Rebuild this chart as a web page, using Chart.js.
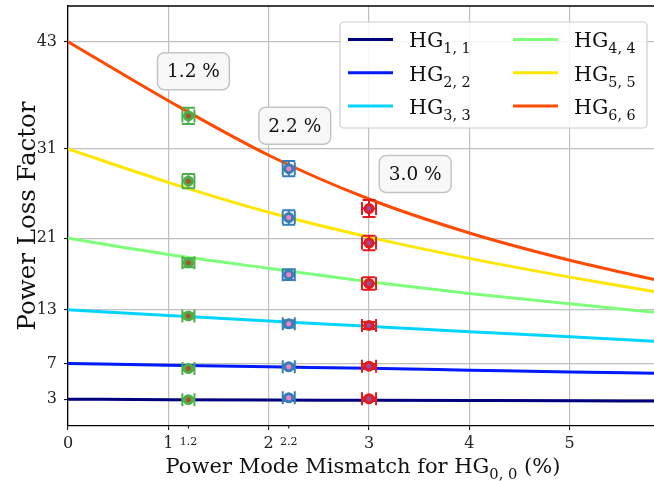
<!DOCTYPE html>
<html>
<head>
<meta charset="utf-8">
<script src="https://cdn.jsdelivr.net/npm/chart.js@4.4.1/dist/chart.umd.min.js"></script>
<style>
  html, body { margin: 0; padding: 0; background: #fff; }
  canvas { display: block; }
</style>
</head>
<body>
<canvas id="lossChart" width="654" height="481"></canvas>
<script>
// curve samples (mismatch %, power loss factor)
const mismatchX = [0, 1, 2, 3, 4, 5, 5.84];
const hg11 = [3.0, 2.95, 2.91, 2.88, 2.85, 2.82, 2.79];
const hg22 = [7.0, 6.8, 6.62, 6.45, 6.25, 6.05, 5.91];
const hg33 = [13.0, 12.36, 11.76, 11.15, 10.55, 9.98, 9.48];
const hg44 = [21.0, 19.2, 17.65, 16.14, 14.83, 13.67, 12.74];
const hg55 = [31.0, 27.27, 23.92, 21.14, 18.76, 16.66, 15.04];
const hg66 = [43.0, 36.4, 30.3, 25.4, 21.6, 18.55, 16.4];

const modeSubs = ["1, 1", "2, 2", "3, 3", "4, 4", "5, 5", "6, 6"];
const modeColors = ["#00007f", "#0019ff", "#00d4ff", "#7dff7a", "#ffe600", "#ff4a00"];

// measured points with error bars, one group per mismatch
const groupX = [1.2, 2.2, 3.0];
const group12 = [2.95, 6.43, 12.32, 18.27, 27.4, 34.7];
const group22 = [3.16, 6.62, 11.43, 16.93, 23.33, 28.8];
const group30 = [3.05, 6.7, 11.25, 15.94, 20.48, 24.33];
const group12Err = [0.15, 0.2, 0.3, 0.5, 0.8, 0.9];
const group22Err = [0.15, 0.2, 0.4, 0.6, 0.8, 0.85];
const group30Err = [0.15, 0.25, 0.4, 0.7, 0.8, 0.95];
const groupXErr = [0.06, 0.06, 0.07];
const groupEdge = ["#4daf4a", "#377eb8", "#e41a1c"];
const groupFace = ["#a65628", "#f781bf", "#984ea3"];

// annotation boxes
const noteText = ["1.2 %", "2.2 %", "3.0 %"];
const noteX = [1.25, 2.26, 3.46];
const noteY = [39.7, 33.6, 28.2];

const xTicks = [0, 1, 2, 3, 4, 5];
const xMinorTicks = [1.2, 2.2];
const yTicks = [3, 7, 13, 21, 31, 43];

const SERIF = '"DejaVu Serif", "Liberation Serif", serif';
const curves = [hg11, hg22, hg33, hg44, hg55, hg66];
const groups = [group12, group22, group30];
const groupErr = [group12Err, group22Err, group30Err];

const datasets = [];
groups.forEach((g, i) => {
    datasets.push({
        type: "scatter",
        data: g.map(v => ({ x: groupX[i], y: v })),
        errY: groupErr[i],
        errX: groupXErr[i],
        edge: groupEdge[i],
        pointRadius: 4,
        pointBorderWidth: 3,
        pointBackgroundColor: groupFace[i],
        pointBorderColor: groupEdge[i],
        order: 0
    });
});
curves.forEach((c, i) => {
    datasets.push({
        type: "line",
        data: c.map((v, j) => ({ x: mismatchX[j], y: v })),
        borderColor: modeColors[i],
        borderWidth: 3,
        pointRadius: 0,
        cubicInterpolationMode: "monotone",
        fill: false,
        order: 1
    });
});

function subText(ctx, parts, x, y, size, align) {
    // parts: [text, isSub]
    const widths = parts.map(p => {
        ctx.font = (p[1] ? size * 0.7 : size) + "px " + SERIF;
        return ctx.measureText(p[0]).width;
    });
    const total = widths.reduce((a, b) => a + b, 0);
    let cx = align === "center" ? x - total / 2 : x;
    parts.forEach((p, i) => {
        ctx.font = (p[1] ? size * 0.7 : size) + "px " + SERIF;
        ctx.fillText(p[0], cx, p[1] ? y + size * 0.3 : y);
        cx += widths[i];
    });
}

const errorBars = {
    id: "errorBars",
    beforeDatasetDraw(chart, args) {
        const ds = chart.data.datasets[args.index];
        if (!ds.errY) return;
        const ctx = chart.ctx, xs = chart.scales.x, ys = chart.scales.y;
        const cap = 6.5;
        ctx.save();
        ctx.strokeStyle = ds.edge;
        ctx.lineWidth = 2;
        ds.data.forEach((p, i) => {
            const px = xs.getPixelForValue(p.x), py = ys.getPixelForValue(p.y);
            const x0 = xs.getPixelForValue(p.x - ds.errX), x1 = xs.getPixelForValue(p.x + ds.errX);
            const y0 = ys.getPixelForValue(p.y - ds.errY[i]), y1 = ys.getPixelForValue(p.y + ds.errY[i]);
            ctx.beginPath();
            ctx.moveTo(x0, py); ctx.lineTo(x1, py);
            ctx.moveTo(x0, py - cap); ctx.lineTo(x0, py + cap);
            ctx.moveTo(x1, py - cap); ctx.lineTo(x1, py + cap);
            ctx.moveTo(px, y0); ctx.lineTo(px, y1);
            ctx.moveTo(px - cap, y0); ctx.lineTo(px + cap, y0);
            ctx.moveTo(px - cap, y1); ctx.lineTo(px + cap, y1);
            ctx.stroke();
        });
        ctx.restore();
    }
};

function roundBox(ctx, x, y, w, h, r) {
    ctx.beginPath();
    ctx.moveTo(x + r, y);
    ctx.arcTo(x + w, y, x + w, y + h, r);
    ctx.arcTo(x + w, y + h, x, y + h, r);
    ctx.arcTo(x, y + h, x, y, r);
    ctx.arcTo(x, y, x + w, y, r);
    ctx.closePath();
}

const overlay = {
    id: "overlay",
    afterDraw(chart) {
        const ctx = chart.ctx, area = chart.chartArea;
        const xs = chart.scales.x, ys = chart.scales.y;
        ctx.save();
        // top spine
        ctx.strokeStyle = "#000";
        ctx.lineWidth = 1.3;
        ctx.beginPath();
        ctx.moveTo(area.left, area.top);
        ctx.lineTo(area.right, area.top);
        ctx.stroke();

        // minor ticks at measured mismatches
        ctx.fillStyle = "#222";
        ctx.lineWidth = 1;
        xMinorTicks.forEach(v => {
            const px = xs.getPixelForValue(v);
            ctx.beginPath();
            ctx.moveTo(px, area.bottom);
            ctx.lineTo(px, area.bottom + 2.5);
            ctx.stroke();
            ctx.font = "11px " + SERIF;
            ctx.textAlign = "center";
            ctx.textBaseline = "alphabetic";
            ctx.fillText(String(v), px, area.bottom + 18.5);
        });

        // axis titles
        ctx.fillStyle = "#111";
        ctx.textAlign = "left";
        subText(ctx, [["Power Mode Mismatch for HG", false], ["0, 0", true], [" (%)", false]],
            (area.left + area.right) / 2 + 2, 473, 21, "center");
        ctx.save();
        ctx.translate(35, (area.top + area.bottom) / 2);
        ctx.rotate(-Math.PI / 2);
        ctx.font = "24.5px " + SERIF;
        ctx.textAlign = "center";
        ctx.fillText("Power Loss Factor", 0, 0);
        ctx.restore();

        // annotation boxes
        noteText.forEach((t, i) => {
            const cx = xs.getPixelForValue(noteX[i]), cy = ys.getPixelForValue(noteY[i]);
            ctx.font = "18.5px " + SERIF;
            const w = ctx.measureText(t).width + 19, h = 37;
            roundBox(ctx, cx - w / 2, cy - h / 2, w, h, 7);
            ctx.fillStyle = "#f8f8f8";
            ctx.fill();
            ctx.strokeStyle = "#c4c4c4";
            ctx.lineWidth = 1.5;
            ctx.stroke();
            ctx.fillStyle = "#111";
            ctx.textAlign = "center";
            ctx.textBaseline = "middle";
            ctx.fillText(t, cx, cy + 1);
        });

        // legend
        const lx = area.right - 314, ly = area.top + 16;
        roundBox(ctx, lx, ly, 307, 106, 4);
        ctx.fillStyle = "rgba(255,255,255,0.85)";
        ctx.fill();
        ctx.strokeStyle = "#cccccc";
        ctx.lineWidth = 1.2;
        ctx.stroke();
        ctx.textAlign = "left";
        ctx.textBaseline = "alphabetic";
        modeSubs.forEach((s, i) => {
            const col = Math.floor(i / 3), row = i % 3;
            const x = lx + 8 + col * 165, y = ly + 17.5 + row * 33.3;
            ctx.strokeStyle = modeColors[i];
            ctx.lineWidth = 3;
            ctx.beginPath();
            ctx.moveTo(x, y);
            ctx.lineTo(x + 45, y);
            ctx.stroke();
            ctx.fillStyle = "#111";
            subText(ctx, [["HG", false], [s, true]], x + 61, y + 7.7, 20.5, "left");
        });
        ctx.restore();
    }
};

function noPad(s) {
    s.paddingTop = 0; s.paddingBottom = 0; s.paddingLeft = 0; s.paddingRight = 0;
}

new Chart(document.getElementById("lossChart"), {
    data: { datasets: datasets },
    options: {
        responsive: false,
        animation: false,
        layout: { autoPadding: false, padding: { top: 6, right: 0, left: 0, bottom: 0 } },
        plugins: { legend: { display: false }, tooltip: { enabled: false } },
        scales: {
            x: {
                type: "linear",
                min: 0,
                max: 5.84,
                afterFit: s => { s.height = 55; noPad(s); },
                afterBuildTicks: s => { s.ticks = xTicks.map(v => ({ value: v })); },
                grid: { color: "#c0c0c0", lineWidth: 1.2, tickColor: "#000", tickLength: 4, tickWidth: 1 },
                border: { color: "#000", width: 1.3 },
                ticks: { color: "#222", padding: 4, maxRotation: 0, font: { family: SERIF, size: 16 } }
            },
            y: {
                type: "linear",
                min: 0,
                max: 47,
                afterFit: s => { s.width = 68; noPad(s); },
                afterBuildTicks: s => { s.ticks = yTicks.map(v => ({ value: v })); },
                grid: { color: "#c0c0c0", lineWidth: 1.2, tickColor: "#000", tickLength: 4, tickWidth: 1 },
                border: { color: "#000", width: 1.3 },
                ticks: { color: "#222", padding: 7, font: { family: SERIF, size: 16 } }
            }
        }
    },
    plugins: [errorBars, overlay]
});
</script>
</body>
</html>
